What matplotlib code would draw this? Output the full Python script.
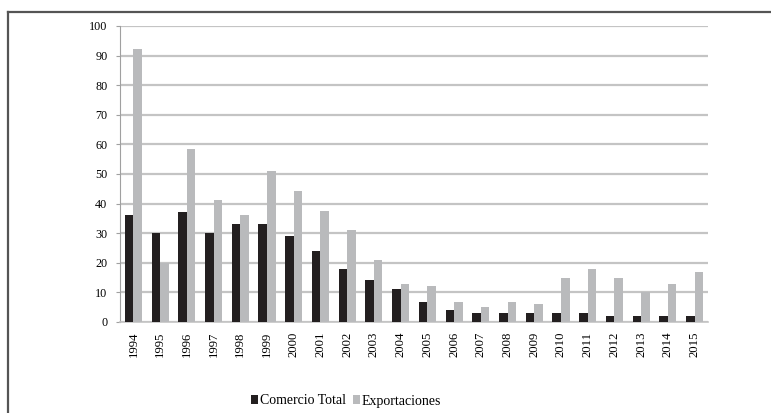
import matplotlib
matplotlib.use("Agg")
import matplotlib.pyplot as plt
from matplotlib.lines import Line2D
import numpy as np

years = ["1994", "1995", "1996", "1997", "1998", "1999", "2000", "2001", "2002", "2003", "2004",
         "2005", "2006", "2007", "2008", "2009", "2010", "2011", "2012", "2013", "2014", "2015"]
comercio_total = [36, 30, 37, 30, 33, 33, 29.2, 24.1, 18, 14.2, 11.1,
                  6.7, 4.0, 3.0, 3.0, 3.0, 3.0, 3.0, 2.0, 2.0, 2.0, 2.0]
exportaciones = [92.2, 20, 58.5, 41.1, 36, 51, 44.3, 37.4, 31.2, 21, 12.8,
                 12.2, 6.7, 5.0, 6.7, 6.0, 14.9, 18.0, 14.9, 10.0, 12.8, 16.9]
yticks = [0, 10, 20, 30, 40, 50, 60, 70, 80, 90, 100]

plt.rcParams['font.family'] = ['Liberation Serif', 'DejaVu Serif']

fig = plt.figure(figsize=(7.71, 4.13), dpi=100)
ax = fig.add_axes([120/771, 1-322/413, (708-120)/771, (322-26)/413])

x = np.arange(len(years))
w = 0.32
ax.bar(x - w/2, comercio_total, width=w, color="#231f20", label="Comercio Total", zorder=3)
ax.bar(x + w/2, exportaciones, width=w, color="#b9babc", label="Exportaciones", zorder=3)

ax.set_xlim(-0.5, len(years) - 0.5)
ax.set_ylim(0, 100)
ax.set_yticks(yticks)
ax.set_yticklabels([str(t) for t in yticks], fontsize=8.7)
ax.set_xticks(x)
ax.set_xticklabels(years, rotation=90, fontsize=9.2)
ax.tick_params(axis='x', length=0, pad=7)
ax.tick_params(axis='y', length=3, color="#a0a0a0", width=0.8, pad=6)

ax.grid(axis='y', color="#c4c4c4", linewidth=1.6, zorder=0)
for s in ['top', 'right']:
    ax.spines[s].set_visible(False)
ax.spines['left'].set_color("#a0a0a0")
ax.spines['left'].set_linewidth(0.8)
ax.spines['bottom'].set_color("#c4c4c4")
ax.spines['bottom'].set_linewidth(1.2)

leg = fig.legend(loc='center', bbox_to_anchor=(0.449, 1-401/413), ncol=2, frameon=False,
                 fontsize=10, handlelength=0.5, handleheight=0.6, handletextpad=0.15,
                 columnspacing=0.5)

# outer frame (left and top)
fig.add_artist(Line2D([8/771, 8/771], [0, 1-12/413], transform=fig.transFigure,
                      color="#555555", linewidth=1.6))
fig.add_artist(Line2D([8/771, 1], [1-12/413, 1-12/413], transform=fig.transFigure,
                      color="#555555", linewidth=1.6))

fig.savefig("out.png", dpi=100)
